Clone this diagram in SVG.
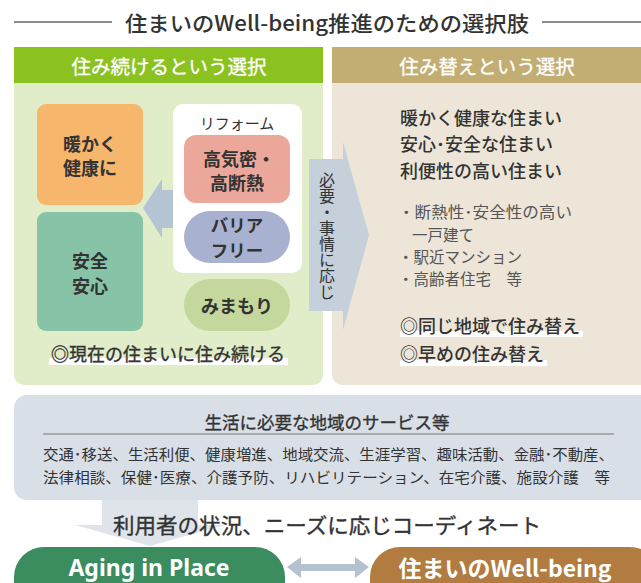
<svg xmlns="http://www.w3.org/2000/svg" width="641" height="583" viewBox="0 0 641 583">
<style>
text{font-family:"Noto Sans CJK JP","Noto Sans",sans-serif;fill:#333;}
.c{text-anchor:middle;dominant-baseline:central;}
.b{font-weight:700;}
.m{font-weight:500;}
.w{fill:#fff;}
.sd{stroke:#333;stroke-width:0.35;}
.sw{stroke:#fff;stroke-width:0.3;}
.box{font-size:18px;font-weight:700;}
.g{fill:#555;font-size:15.5px;dominant-baseline:central;}
</style>
<rect width="641" height="583" fill="#fff"/>
<g id="title">
<line x1="14" y1="22" x2="112" y2="22" stroke="#666" stroke-width="1.5"/>
<line x1="542" y1="22" x2="641" y2="22" stroke="#666" stroke-width="1.5"/>
<text x="327" y="22" class="c m" font-size="21" textLength="404" lengthAdjust="spacingAndGlyphs">住まいのWell-being推進のための選択肢</text>
</g>
<g id="left-panel">
<path d="M14 83 H323 V375 a10 10 0 0 1 -10 10 H24 a10 10 0 0 1 -10 -10 Z" fill="#e1edc9"/>
<rect x="14" y="47" width="309" height="36" fill="#8cc21f"/>
<text x="169" y="65" class="c w sw" font-size="19.5">住み続けるという選択</text>
</g>
<g id="right-panel">
<path d="M332 83 H641 V385 H342 a10 10 0 0 1 -10 -10 Z" fill="#ede6d8"/>
<rect x="332" y="47" width="309" height="36" fill="#c2ad72"/>
<text x="487" y="65" class="c w sw" font-size="19.5">住み替えという選択</text>
</g>
<g id="connectors">
<path d="M175 190 H162 V179 L143 208 L162 238 V228 H175 Z" fill="#b5c4d2"/>
<path d="M309 159 H343 V142 L369 235 L343 330 V311 H309 Z" fill="#c5d0da"/>
<path d="M102 499 H198 V525 H225 L150 546 L75 525 H102 Z" fill="#dfe4ea"/>
<path d="M287 567 L301 557 V564 H355 V557 L369 567 L355 578 V571 H301 V578 Z" fill="#b4c2d0"/>
</g>
<g id="warm">
<rect x="37" y="104" width="106" height="101" rx="9" fill="#f6b66c"/>
<text class="c box"><tspan x="90" y="143">暖かく</tspan><tspan x="90" y="167">健康に</tspan></text>
</g>
<g id="safe">
<rect x="37" y="212" width="106" height="119" rx="9" fill="#87c3a6"/>
<text class="c box"><tspan x="90" y="260">安全</tspan><tspan x="90" y="285">安心</tspan></text>
</g>
<g id="reform">
<rect x="173" y="104" width="129" height="169" rx="10" fill="#fff"/>
<text x="237" y="122" class="c" font-size="15">リフォーム</text>
</g>
<g id="insulation">
<rect x="184" y="135" width="106" height="68" rx="12" fill="#eca79b"/>
<text class="c box"><tspan x="239" y="158">高気密・</tspan><tspan x="237" y="182">高断熱</tspan></text>
</g>
<g id="barrierfree">
<rect x="184" y="211" width="106" height="52" rx="26" fill="#a8b2d0"/>
<text class="c box" font-size="17.5" style="font-size:17.5px"><tspan x="237" y="224">バリア</tspan><tspan x="237" y="249">フリー</tspan></text>
</g>
<g id="watch">
<rect x="184" y="279" width="106" height="52" rx="26" fill="#c4d79c"/>
<text x="237" y="305" class="c box">みまもり</text>
</g>
<g id="stay">
<rect x="49" y="358" width="239" height="7" fill="#fff"/>
<text x="168" y="353" class="c sd" font-size="18">◎現在の住まいに住み続ける</text>
</g>
<g id="as-needed">
<text x="327" y="236" font-size="16" text-anchor="middle" style="writing-mode:vertical-rl">必要・事情に応じ</text>
</g>
<g id="move">
<text x="400" y="117" class="m" font-size="18" dominant-baseline="central">暖かく健康な住まい</text>
<text x="400" y="143" class="m" font-size="18" dominant-baseline="central">安心･安全な住まい</text>
<text x="400" y="170" class="m" font-size="18" dominant-baseline="central">利便性の高い住まい</text>
<text x="398" y="211" class="g" textLength="174" lengthAdjust="spacingAndGlyphs">・断熱性･安全性の高い</text>
<text x="412" y="234" class="g">一戸建て</text>
<text x="398" y="256" class="g">・駅近マンション</text>
<text x="398" y="278" class="g">・高齢者住宅　等</text>
<rect x="400" y="331" width="183" height="6" fill="#fff"/>
<text x="400" y="325" class="m" font-size="18" dominant-baseline="central">◎同じ地域で住み替え</text>
<rect x="400" y="360" width="147" height="6" fill="#fff"/>
<text x="400" y="353" class="m" font-size="18" dominant-baseline="central">◎早めの住み替え</text>
</g>
<g id="services">
<rect x="14" y="395" width="640" height="105" rx="13" fill="#d9dfe6"/>
<text x="327" y="421" class="c sd" font-size="17.5">生活に必要な地域のサービス等</text>
<line x1="43" y1="434" x2="614" y2="434" stroke="#999" stroke-width="1.5"/>
<text x="43" y="453" font-size="15" dominant-baseline="central" textLength="571" lengthAdjust="spacingAndGlyphs">交通･移送、生活利便、健康増進、地域交流、生涯学習、趣味活動、金融･不動産、</text>
<text x="43" y="476" font-size="15" dominant-baseline="central" textLength="567" lengthAdjust="spacingAndGlyphs">法律相談、保健･医療、介護予防、リハビリテーション、在宅介護、施設介護　等</text>
</g>
<g id="coordinate">
<text x="327" y="524" class="c sd" font-size="21" textLength="428" lengthAdjust="spacingAndGlyphs">利用者の状況、ニーズに応じコーディネート</text>
</g>
<g id="aging">
<rect x="14" y="547" width="271" height="70" rx="30" fill="#3b8c5e"/>
<text x="149" y="567" class="c b w" font-size="23" style="font-family:'Noto Sans','Open Sans',sans-serif">Aging in Place</text>
</g>
<g id="wellbeing">
<rect x="370" y="547" width="290" height="70" rx="30" fill="#b27b40"/>
<text x="505" y="567" class="c b w" font-size="23">住まいのWell-being</text>
</g>
</svg>
